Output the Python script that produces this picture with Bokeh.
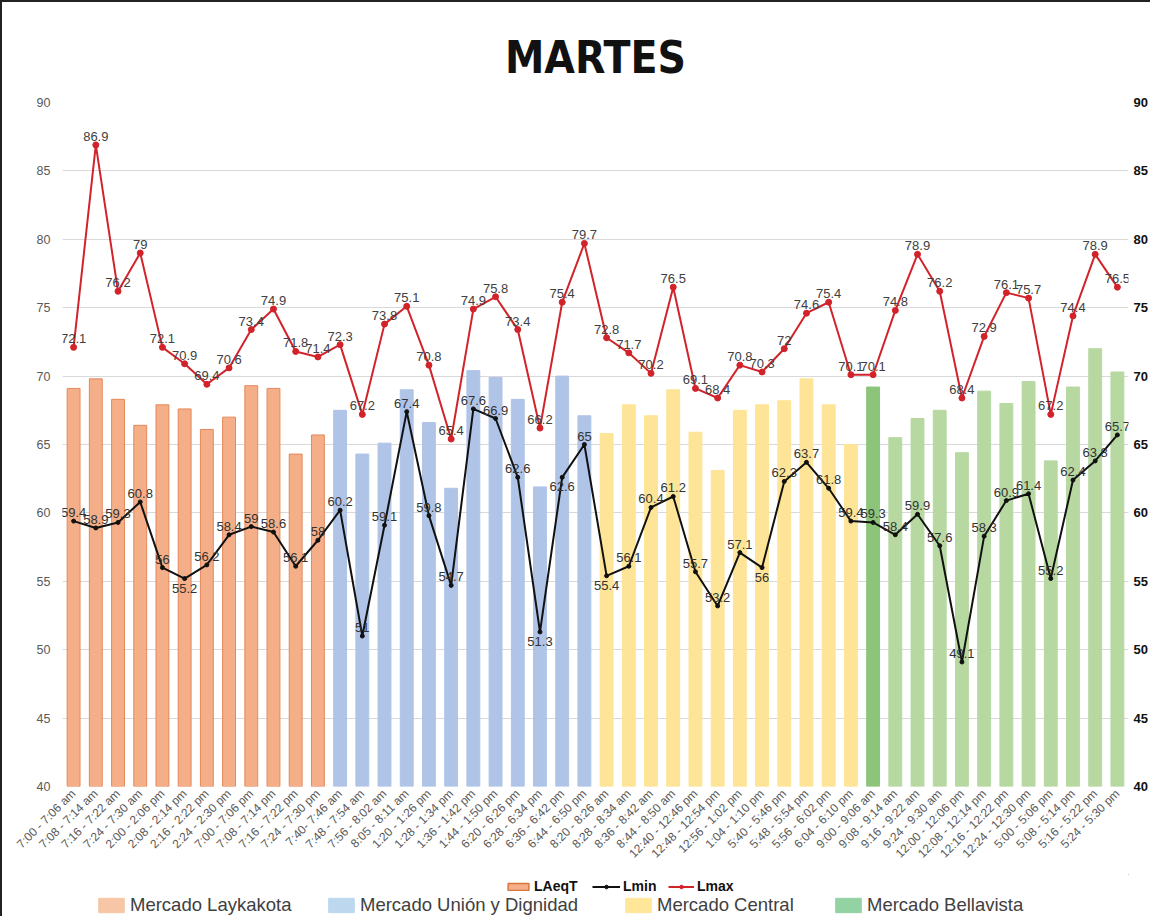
import numpy as np
from bokeh.plotting import figure
from bokeh.layouts import column
from bokeh.models import (ColumnDataSource, FactorRange, Range1d, LinearAxis, Legend,
                          LegendItem, Title, FixedTicker)
from bokeh.core.properties import value
from bokeh.embed import file_html
from bokeh.resources import INLINE

# ---------------- data ----------------
intervals = [
    "7:00 - 7:06 am", "7:08 - 7:14 am", "7:16 - 7:22 am", "7:24 - 7:30 am",
    "2:00 - 2:06 pm", "2:08 - 2:14 pm", "2:16 - 2:22 pm", "2:24 - 2:30 pm",
    "7:00 - 7:06 pm", "7:08 - 7:14 pm", "7:16 - 7:22 pm", "7:24 - 7:30 pm",
    "7:40- 7:46 am", "7:48 - 7:54 am", "7:56 - 8:02 am", "8:05 - 8:11 am",
    "1:20 - 1:26 pm", "1:28 - 1:34 pm", "1:36 - 1:42 pm", "1:44 - 1:50 pm",
    "6:20 - 6:26 pm", "6:28 - 6:34 pm", "6:36 - 6:42 pm", "6:44 - 6:50 pm",
    "8:20 - 8:26 am", "8:28 - 8:34 am", "8:36 - 8:42 am", "8:44 - 8:50 am",
    "12:40 - 12:46 pm", "12:48 - 12:54 pm", "12:56 - 1:02 pm", "1:04 - 1:10 pm",
    "5:40 - 5:46 pm", "5:48 - 5:54 pm", "5:56 - 6:02 pm", "6:04 - 6:10 pm",
    "9:00 - 9:06 am", "9:08 - 9:14 am", "9:16 - 9:22 am", "9:24 - 9:30 am",
    "12:00 - 12:06 pm", "12:08 - 12:14 pm", "12:16 - 12:22 pm", "12:24 - 12:30 pm",
    "5:00 - 5:06 pm", "5:08 - 5:14 pm", "5:16 - 5:22 pm", "5:24 - 5:30 pm",
]
markets = ["Mercado Laykakota", "Mercado Unión y Dignidad", "Mercado Central", "Mercado Bellavista"]
market_of = [0] * 12 + [1] * 12 + [2] * 12 + [3] * 12

laeqt = [
    69.1, 69.8, 68.3, 66.4, 67.9, 67.6, 66.1, 67.0, 69.3, 69.1, 64.3, 65.7,
    67.5, 64.3, 65.1, 69.0, 66.6, 61.8, 70.4, 69.9, 68.3, 61.9, 70.0, 67.1,
    65.8, 67.9, 67.1, 69.0, 65.9, 63.1, 67.5, 67.9, 68.2, 69.8, 67.9, 65.0,
    69.2, 65.5, 66.9, 67.5, 64.4, 68.9, 68.0, 69.6, 63.8, 69.2, 72.0, 70.3,
]
lmin = [
    59.4, 58.9, 59.3, 60.8, 56, 55.2, 56.2, 58.4, 59, 58.6, 56.1, 58,
    60.2, 51, 59.1, 67.4, 59.8, 54.7, 67.6, 66.9, 62.6, 51.3, 62.6, 65,
    55.4, 56.1, 60.4, 61.2, 55.7, 53.2, 57.1, 56, 62.3, 63.7, 61.8, 59.4,
    59.3, 58.4, 59.9, 57.6, 49.1, 58.3, 60.9, 61.4, 55.2, 62.4, 63.8, 65.7,
]
lmax = [
    72.1, 86.9, 76.2, 79, 72.1, 70.9, 69.4, 70.6, 73.4, 74.9, 71.8, 71.4,
    72.3, 67.2, 73.8, 75.1, 70.8, 65.4, 74.9, 75.8, 73.4, 66.2, 75.4, 79.7,
    72.8, 71.7, 70.2, 76.5, 69.1, 68.4, 70.8, 70.3, 72, 74.6, 75.4, 70.1,
    70.1, 74.8, 78.9, 76.2, 68.4, 72.9, 76.1, 75.7, 67.2, 74.4, 78.9, 76.5,
]
y_ticks = [40, 45, 50, 55, 60, 65, 70, 75, 80, 85, 90]

# ---------------- styles ----------------
bar_fill = ["#F4AE88", "#AFC4E7", "#FDE497", "#B7D8A1"]
bar_line = ["#E4895C", "#AFC4E7", "#FDE497", "#B7D8A1"]
legend_fill = ["#F7C6A6", "#BDD7EE", "#FFE699", "#93D2A3"]
first_bellavista_fill = "#8CC57A"
lmin_below = {5, 21, 22, 24, 31}
FONT = "Liberation Sans"
W = 1148
H_MAIN = 872
H_LEG = 914 - H_MAIN

fills = [bar_fill[m] for m in market_of]
lines = [bar_line[m] for m in market_of]
fills[36] = first_bellavista_fill
lines[36] = first_bellavista_fill

p = figure(x_range=FactorRange(*intervals), y_range=Range1d(40, 90),
           width=W, height=H_MAIN, output_backend="svg", toolbar_location=None,
           min_border_left=60, min_border_right=20, min_border_top=100, min_border_bottom=88)
p.background_fill_color = "white"
p.border_fill_color = "white"
p.outline_line_color = None
p.xgrid.grid_line_color = None
p.ygrid.grid_line_color = "#D9D9D9"
p.ygrid.ticker = FixedTicker(ticks=y_ticks)

# title
p.title = Title(text="MARTES", align="center", offset=-8,
                text_font="'Liberation Sans Narrow', 'DejaVu Sans Condensed', 'Liberation Sans'",
                text_font_size="44px", text_font_style="bold", text_color="#111111",
                standoff=40)

# axes
p.yaxis.ticker = FixedTicker(ticks=y_ticks)
p.yaxis.axis_line_color = None
p.yaxis.major_tick_line_color = None
p.yaxis.major_tick_out = 0
p.yaxis.minor_tick_line_color = None
p.yaxis.minor_tick_out = 0
p.yaxis.major_label_standoff = 12
p.yaxis.major_label_text_font = FONT
p.yaxis.major_label_text_font_size = "12.5px"
p.yaxis.major_label_text_color = "#595959"

ry = LinearAxis(ticker=FixedTicker(ticks=y_ticks))
ry.axis_line_color = None
ry.major_tick_line_color = None
ry.major_tick_out = 0
ry.minor_tick_line_color = None
ry.minor_tick_out = 0
ry.major_label_standoff = 5
ry.major_label_text_font = FONT
ry.major_label_text_font_size = "13px"
ry.major_label_text_font_style = "bold"
ry.major_label_text_color = "#111111"
p.add_layout(ry, "right")

p.xaxis.axis_line_color = None
p.xaxis.major_tick_line_color = None
p.xaxis.major_tick_out = 0
p.xaxis.minor_tick_line_color = None
p.xaxis.minor_tick_out = 0
p.xaxis.major_label_orientation = np.pi / 4
p.xaxis.major_label_standoff = 5
p.xaxis.major_label_text_font = FONT
p.xaxis.major_label_text_font_size = "12px"
p.xaxis.major_label_text_color = "#595959"

# bars
bar_src = ColumnDataSource(dict(x=intervals, top=laeqt, fill=fills, line=lines))
p.vbar(x="x", top="top", bottom=40, width=0.58, fill_color="fill", line_color="line",
       line_width=1, source=bar_src)

# lines
p.line(intervals, lmax, line_color="#D2232A", line_width=2)
p.scatter(intervals, lmax, size=6, fill_color="#D2232A", line_color="#D2232A")
p.line(intervals, lmin, line_color="#111111", line_width=2)
p.scatter(intervals, lmin, size=4, fill_color="#111111", line_color="#111111")

# data labels
p.text(intervals, lmax, text=[f"{v:g}" for v in lmax], text_align="center",
       text_baseline="bottom", y_offset=-4, text_font=value(FONT),
       text_font_size="13px", text_color="#404040")
above_idx = [i for i in range(len(lmin)) if i not in lmin_below]
below_idx = [i for i in range(len(lmin)) if i in lmin_below]
p.text([intervals[i] for i in above_idx], [lmin[i] for i in above_idx],
       text=[f"{lmin[i]:g}" for i in above_idx], text_align="center",
       text_baseline="bottom", y_offset=-4, text_font=value(FONT),
       text_font_size="13px", text_color="#333333")
p.text([intervals[i] for i in below_idx], [lmin[i] for i in below_idx],
       text=[f"{lmin[i]:g}" for i in below_idx], text_align="center",
       text_baseline="top", y_offset=5, text_font=value(FONT),
       text_font_size="13px", text_color="#333333")

# ---------------- legend strip ----------------
lf = figure(x_range=Range1d(0, 1), y_range=Range1d(0, 1), width=W, height=H_LEG,
            output_backend="svg", toolbar_location=None, min_border=0,
            x_axis_location=None, y_axis_location=None)
lf.grid.visible = False
lf.outline_line_color = None
lf.background_fill_color = "white"
lf.border_fill_color = "white"

lae_r = lf.vbar(x=[5], top=[5], bottom=[5], width=0.1,
                fill_color="#F4AE88", line_color="#D9773F", line_width=1.5)
lmin_l = lf.line([5, 6], [5, 5], line_color="#111111", line_width=2)
lmin_p = lf.scatter([5], [5], size=4, fill_color="#111111", line_color="#111111")
lmax_l = lf.line([5, 6], [5, 5], line_color="#D2232A", line_width=2)
lmax_p = lf.scatter([5], [5], size=6, fill_color="#D2232A", line_color="#D2232A")
mk_r = [lf.vbar(x=[5], top=[5], bottom=[5], width=0.1, fill_color=c, line_color=c)
        for c in legend_fill]


def add_legend(items, x, y, size, bold, gw, gh, lh, color):
    lg = Legend(items=items, location=(x, y), orientation="horizontal", margin=0,
                padding=0, border_line_alpha=0, background_fill_alpha=0,
                label_text_font=FONT, label_text_font_size=size,
                label_text_font_style="bold" if bold else "normal",
                label_text_color=color, glyph_width=gw, glyph_height=gh,
                label_standoff=3, spacing=0, label_height=lh)
    lf.add_layout(lg)


add_legend([LegendItem(label="LAeqT", renderers=[lae_r])], 443, 21, "14px", True, 26, 9, 18, "#111111")
add_legend([LegendItem(label="Lmin", renderers=[lmin_l, lmin_p])], 530, 21, "14px", True, 28, 9, 18, "#111111")
add_legend([LegendItem(label="Lmax", renderers=[lmax_l, lmax_p])], 606, 21, "14px", True, 26, 9, 18, "#111111")

for name, r, x in zip(markets, mk_r, [33, 263, 560, 770]):
    add_legend([LegendItem(label=name, renderers=[r])], x, 0, "18.5px", False, 32, 18, 21, "#404040")

layout = column(p, lf, spacing=0,
                styles={"border-left": "2px solid #222222", "border-top": "2px solid #222222"})

open("out.html", "w").write(file_html(layout, INLINE))
